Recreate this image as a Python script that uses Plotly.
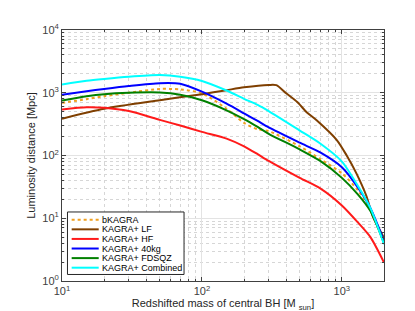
import plotly.graph_objects as go

# ---- data ----
mass = [10, 15, 20, 30, 50, 70, 100, 150, 200, 250, 300, 500, 700, 1000, 1300, 1600, 2000]
names = ["bKAGRA", "KAGRA+ LF", "KAGRA+ HF", "KAGRA+ 40kg", "KAGRA+ FDSQZ", "KAGRA+ Combined"]

bkagra = [690, 790, 880, 1000, 1150, 1130, 980, 556, 330, 262, 245, 140, 88, 52, 28, 14, 4.2]
lf_mass = [10, 20, 50, 100, 150, 200, 300, 340, 400, 480, 560, 660, 920, 1080, 1270, 1500, 1660, 2000]
lf = [386, 556, 760, 950, 1100, 1220, 1330, 1320, 980, 710, 490, 364, 176, 101, 52, 22.4, 10.8, 4.9]
hf = [543, 585, 575, 510, 370, 300, 238, 186, 140, 105, 82, 44, 30, 16, 8.6, 5.0, 1.97]
kg40 = [925, 1060, 1150, 1280, 1420, 1390, 1040, 670, 470, 355, 280, 160, 112, 65, 31, 14.5, 4.35]
fdsqz = [754, 880, 950, 1000, 1010, 930, 760, 525, 380, 285, 222, 125, 82, 44, 24, 13, 4.0]
combined = [1350, 1550, 1660, 1800, 1910, 1800, 1540, 1085, 800, 640, 510, 250, 155, 80, 33, 14.5, 3.85]

x_ticks = [10, 100, 1000]
x_ticklabels = ["10<sup>1</sup>", "10<sup>2</sup>", "10<sup>3</sup>"]
y_ticks = [1, 10, 100, 1000, 10000]
y_ticklabels = ["10<sup>0</sup>", "10<sup>1</sup>", "10<sup>2</sup>", "10<sup>3</sup>", "10<sup>4</sup>"]

colors = ["#f0a020", "#7f3f00", "#ff1a1a", "#0000ff", "#008000", "#00ffff"]

fig = go.Figure()
series = [(mass, bkagra), (lf_mass, lf), (mass, hf), (mass, kg40), (mass, fdsqz), (mass, combined)]
for i, ((xs, ys), nm, c) in enumerate(zip(series, names, colors)):
    fig.add_trace(go.Scatter(
        x=xs, y=ys, name=nm, mode="lines", showlegend=False,
        line=dict(color=c, width=2, shape="spline", smoothing=0.7,
                  dash="dot" if i == 0 else "solid"),
    ))

minor_vals = [m * 10 ** k for k in range(0, 4) for m in range(2, 10)]


def axis_style(tv, tt):
    return dict(
        type="log", showline=True, linecolor="#404040", linewidth=1, mirror="ticks",
        ticks="inside", ticklen=4, tickcolor="#404040",
        showgrid=True, gridcolor="#e3e3e3", gridwidth=1,
        tickmode="array", tickvals=tv, ticktext=tt, zeroline=False,
        tickfont=dict(family="Liberation Sans, Arial", size=11, color="#404040"),
        minor=dict(tickmode="array", tickvals=minor_vals, ticks="inside", ticklen=2,
                   tickcolor="#404040", showgrid=True, gridcolor="#d6d6d6", griddash="dot"),
    )


fig.update_layout(
    width=415, height=311,
    margin=dict(l=54, r=39, t=22, b=36),
    paper_bgcolor="white", plot_bgcolor="white",
    font=dict(family="Liberation Sans, Arial", size=11, color="#262626"),
    xaxis=dict(range=[1, 3.30103],
               title=dict(text="Redshifted mass of central BH [M <sub>sun</sub>]", standoff=2,
                          font=dict(size=11)),
               **axis_style(x_ticks, x_ticklabels)),
    yaxis=dict(range=[0, 4],
               title=dict(text="Luminosity distance [Mpc]", standoff=4, font=dict(size=11)),
               **axis_style(y_ticks, y_ticklabels)),
    showlegend=False,
)

# ---- manual compact legend (MATLAB style) ----
box = dict(x0=0.017, x1=0.379, y0=0.026, y1=0.275)
fig.add_shape(type="rect", xref="paper", yref="paper", layer="above",
              line=dict(color="#262626", width=1), fillcolor="white", **box)
row_top, row_step = 0.244, 0.0382
for i, (nm, c) in enumerate(zip(names, colors)):
    yy = row_top - i * row_step
    fig.add_shape(type="line", xref="paper", yref="paper", layer="above",
                  x0=0.030, x1=0.114, y0=yy, y1=yy,
                  line=dict(color=c, width=2, dash="dot" if i == 0 else "solid"))
    fig.add_annotation(text=nm, xref="paper", yref="paper", x=0.117, y=yy,
                       xanchor="left", yanchor="middle", showarrow=False,
                       font=dict(size=9, color="#000000"))

fig.write_html("out.html")
